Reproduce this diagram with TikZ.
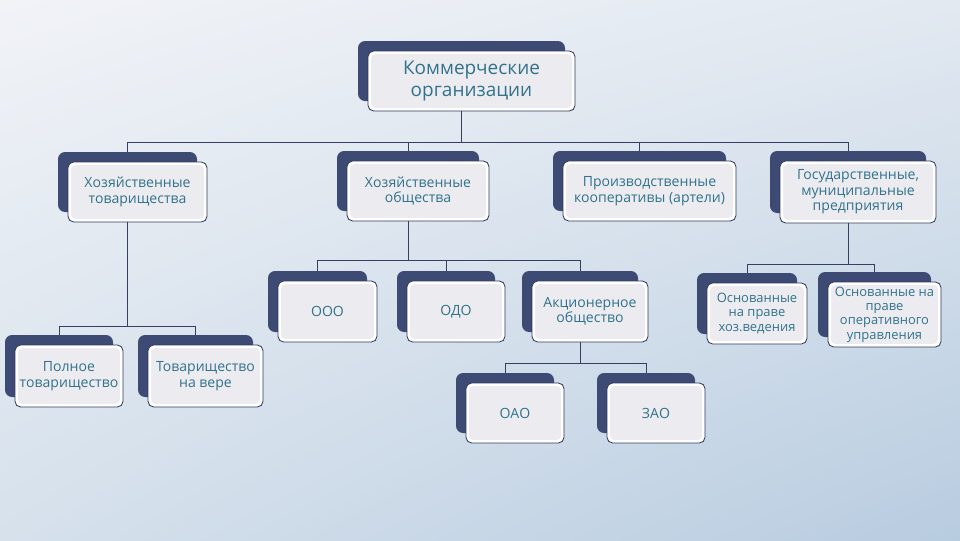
\documentclass[tikz,border=0pt]{standalone}
\usepackage{fontspec}
\setmainfont{Open Sans}
\usepackage{tikz}
\usetikzlibrary{shadings}
\definecolor{navy}{HTML}{3D4A74}
\definecolor{orgtext}{HTML}{31728C}
\definecolor{boxfill}{HTML}{ECECF0}
\definecolor{bgUL}{HTML}{F1F3F7}
\definecolor{bgUR}{HTML}{E2E9F1}
\definecolor{bgLL}{HTML}{D6E1EC}
\definecolor{bgLR}{HTML}{B8CCE0}
\tikzstyle{backbox} = [fill=navy, rounded corners=5pt, inner sep=0pt]
\tikzstyle{frontbox} = [fill=white, draw=navy!80!black, line width=0.6pt,
  rounded corners=4pt, inner sep=0pt, align=center, text=orgtext,
  font=\fontsize{10}{11}\selectfont,
  path picture={\fill[boxfill, rounded corners=3pt]
    ([shift={(2.2pt,2.2pt)}]path picture bounding box.south west) rectangle
    ([shift={(-2.2pt,-2.2pt)}]path picture bounding box.north east);}]
\tikzstyle{bigtext} = [font=\fontsize{13.5}{15}\selectfont]
\tikzstyle{smalltext} = [font=\fontsize{9.2}{10.2}\selectfont]
\tikzstyle{link} = [draw=navy!85!black, line width=0.6pt]

\begin{document}
\begin{tikzpicture}[x=0.025cm, y=-0.025cm]
  % background
  \useasboundingbox (0,0) rectangle (960,540);
  \shade[upper left=bgUL, upper right=bgUR, lower left=bgLL, lower right=bgLR]
    (0,0) rectangle (960,540);

  % boxes: back plate, then front card
  \node (top) at (461.5,71) [backbox, minimum width=207*0.025cm, minimum height=60*0.025cm] {};
  \node (top-f) at ([shift={(10,10)}]top.center) [frontbox, bigtext, minimum width=207*0.025cm, minimum height=60*0.025cm] {Коммерческие\\организации};

  \node (hoztov) at (127.5,182) [backbox, minimum width=139*0.025cm, minimum height=60*0.025cm] {};
  \node (hoztov-f) at ([shift={(10,10)}]hoztov.center) [frontbox, minimum width=139*0.025cm, minimum height=60*0.025cm] {Хозяйственные\\товарищества};
  \node (hozob) at (408,181) [backbox, minimum width=142*0.025cm, minimum height=60*0.025cm] {};
  \node (hozob-f) at ([shift={(10,10)}]hozob.center) [frontbox, minimum width=142*0.025cm, minimum height=60*0.025cm] {Хозяйственные\\общества};
  \node (coop) at (639.5,181) [backbox, minimum width=173*0.025cm, minimum height=60*0.025cm] {};
  \node (coop-f) at ([shift={(10,10)}]coop.center) [frontbox, minimum width=173*0.025cm, minimum height=60*0.025cm] {Производственные\\кооперативы (артели)};
  \node (gos) at (848,182) [backbox, minimum width=156*0.025cm, minimum height=62*0.025cm] {};
  \node (gos-f) at ([shift={(10,10)}]gos.center) [frontbox, minimum width=156*0.025cm, minimum height=62*0.025cm] {Государственные,\\муниципальные\\предприятия};

  \node (ooo) at (317.5,301.5) [backbox, minimum width=99*0.025cm, minimum height=61*0.025cm] {};
  \node (ooo-f) at ([shift={(10,10)}]ooo.center) [frontbox, minimum width=99*0.025cm, minimum height=61*0.025cm] {ООО};
  \node (odo) at (446,301.5) [backbox, minimum width=98*0.025cm, minimum height=61*0.025cm] {};
  \node (odo-f) at ([shift={(10,10)}]odo.center) [frontbox, minimum width=98*0.025cm, minimum height=61*0.025cm] {ОДО};
  \node (ao) at (580,301.5) [backbox, minimum width=116*0.025cm, minimum height=61*0.025cm] {};
  \node (ao-f) at ([shift={(10,10)}]ao.center) [frontbox, minimum width=116*0.025cm, minimum height=61*0.025cm] {Акционерное\\общество};
  \node (oshoz) at (747,303.5) [backbox, minimum width=100*0.025cm, minimum height=61*0.025cm] {};
  \node (oshoz-f) at ([shift={(10,10)}]oshoz.center) [frontbox, smalltext, minimum width=100*0.025cm, minimum height=61*0.025cm] {Основанные\\на праве\\хоз.ведения};
  \node (osoper) at (874.5,304.5) [backbox, minimum width=113*0.025cm, minimum height=65*0.025cm] {};
  \node (osoper-f) at ([shift={(10,10)}]osoper.center) [frontbox, smalltext, minimum width=113*0.025cm, minimum height=65*0.025cm] {Основанные на\\праве\\оперативного\\управления};

  \node (poln) at (59,366) [backbox, minimum width=108*0.025cm, minimum height=62*0.025cm] {};
  \node (poln-f) at ([shift={(10,10)}]poln.center) [frontbox, minimum width=108*0.025cm, minimum height=62*0.025cm] {Полное\\товарищество};
  \node (tovvere) at (195.5,366) [backbox, minimum width=115*0.025cm, minimum height=62*0.025cm] {};
  \node (tovvere-f) at ([shift={(10,10)}]tovvere.center) [frontbox, minimum width=115*0.025cm, minimum height=62*0.025cm] {Товарищество\\на вере};

  \node (oao) at (505,403) [backbox, minimum width=98*0.025cm, minimum height=60*0.025cm] {};
  \node (oao-f) at ([shift={(10,10)}]oao.center) [frontbox, minimum width=98*0.025cm, minimum height=60*0.025cm] {ОАО};
  \node (zao) at (646,403) [backbox, minimum width=98*0.025cm, minimum height=60*0.025cm] {};
  \node (zao-f) at ([shift={(10,10)}]zao.center) [frontbox, minimum width=98*0.025cm, minimum height=60*0.025cm] {ЗАО};

  % bus lines
  \coordinate (bus0) at (0,142);
  \coordinate (bus1) at (0,326);
  \coordinate (bus2) at (0,260);
  \coordinate (bus3) at (0,264);
  \coordinate (bus4) at (0,363);

  \draw [link] (top-f.south -| top.center) -- (top.center |- bus0);
  \draw [link] (hoztov.north) |- (bus0 -| gos.north) -- (gos.north);
  \draw [link] (hozob.north) -- (hozob.north |- bus0);
  \draw [link] (coop.north) -- (coop.north |- bus0);

  \draw [link] (hoztov-f.south -| hoztov.center) -- (hoztov.center |- bus1);
  \draw [link] (poln.north) |- (bus1 -| tovvere.north) -- (tovvere.north);

  \draw [link] (hozob-f.south -| hozob.center) -- (hozob.center |- bus2);
  \draw [link] (ooo.north) |- (bus2 -| ao.north) -- (ao.north);
  \draw [link] (odo.north) -- (odo.north |- bus2);

  \draw [link] (gos-f.south -| gos.center) -- (gos.center |- bus3);
  \draw [link] (oshoz.north) |- (bus3 -| osoper.north) -- (osoper.north);

  \draw [link] (ao-f.south -| ao.center) -- (ao.center |- bus4);
  \draw [link] (oao.north) |- (bus4 -| zao.north) -- (zao.north);
\end{tikzpicture}
\end{document}
